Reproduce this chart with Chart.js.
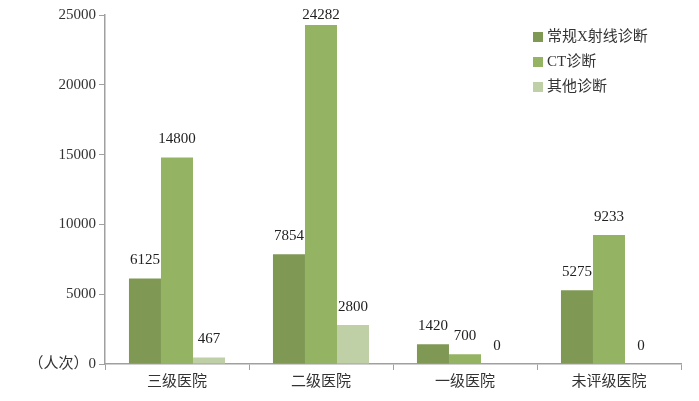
<!DOCTYPE html>
<html><head><meta charset="utf-8">
<script src="https://cdn.jsdelivr.net/npm/chart.js@4.4.1/dist/chart.umd.min.js"></script>
<style>html,body{margin:0;padding:0;background:#fff}#wrap{width:699px;height:401px}</style>
</head><body><div id="wrap"><canvas id="c" width="699" height="401"></canvas></div>
<script>
const categories = ['三级医院','二级医院','一级医院','未评级医院'];
const xrayValues = [6125, 7854, 1420, 5275];
const ctValues = [14800, 24282, 700, 9233];
const otherValues = [467, 2800, 0, 0];
const seriesNames = ['常规X射线诊断','CT诊断','其他诊断'];
const colors = ['#7f9955','#94b363','#bfd0a6'];
const yTicks = [0,5000,10000,15000,20000,25000];
const FONT = '"Liberation Serif","Noto Sans CJK SC",serif';

const labelPlugin = {
  id:'labels',
  afterDatasetsDraw(chart){
    const ctx = chart.ctx;
    ctx.save();
    ctx.font = '15px ' + FONT;
    ctx.fillStyle = '#222';
    ctx.textAlign = 'center';
    ctx.textBaseline = 'middle';
    chart.data.datasets.forEach((ds,i)=>{
      chart.getDatasetMeta(i).data.forEach((bar,j)=>{
        ctx.fillText(String(ds.data[j]), bar.x, Math.max(bar.y - 18, 15));
      });
    });
    // legend
    chart.data.datasets.forEach((ds,i)=>{
      const y = 37 + i*25;
      ctx.fillStyle = ds.backgroundColor;
      ctx.fillRect(533, y-5, 10, 10);
      ctx.fillStyle = '#333';
      ctx.textAlign = 'left';
      ctx.fillText(ds.label, 547, y);
    });
    ctx.restore();
  }
};

new Chart(document.getElementById('c'), {
  type:'bar',
  data:{
    labels: categories,
    datasets:[
      {label:seriesNames[0], data:xrayValues, backgroundColor:colors[0]},
      {label:seriesNames[1], data:ctValues, backgroundColor:colors[1]},
      {label:seriesNames[2], data:otherValues, backgroundColor:colors[2]}
    ]
  },
  options:{
    responsive:false,
    animation:false,
    devicePixelRatio:1,
    layout:{padding:{top:15,right:18,left:0,bottom:0}},
    datasets:{bar:{categoryPercentage:0.667,barPercentage:1}},
    plugins:{legend:{display:false},tooltip:{enabled:false}},
    scales:{
      x:{
        grid:{display:true,drawOnChartArea:false,drawTicks:true,tickLength:6,color:'#a0a0a0',offset:true},
        border:{color:'#a0a0a0',width:1.5},
        ticks:{font:{size:15,family:FONT},color:'#333',padding:3},
        afterFit(s){s.height=37;}
      },
      y:{
        min:0,max:25000,
        afterBuildTicks(s){s.ticks = yTicks.map(v=>({value:v}));},
        grid:{display:true,drawOnChartArea:false,drawTicks:true,tickLength:6,color:'#a0a0a0'},
        border:{color:'#a0a0a0',width:1.5},
        ticks:{font:{size:15,family:FONT},color:'#333',padding:3,
          callback:(v)=> v===0 ? '（人次）0' : String(v)},
        afterFit(s){s.width=105;}
      }
    }
  },
  plugins:[labelPlugin]
});
</script></body></html>
